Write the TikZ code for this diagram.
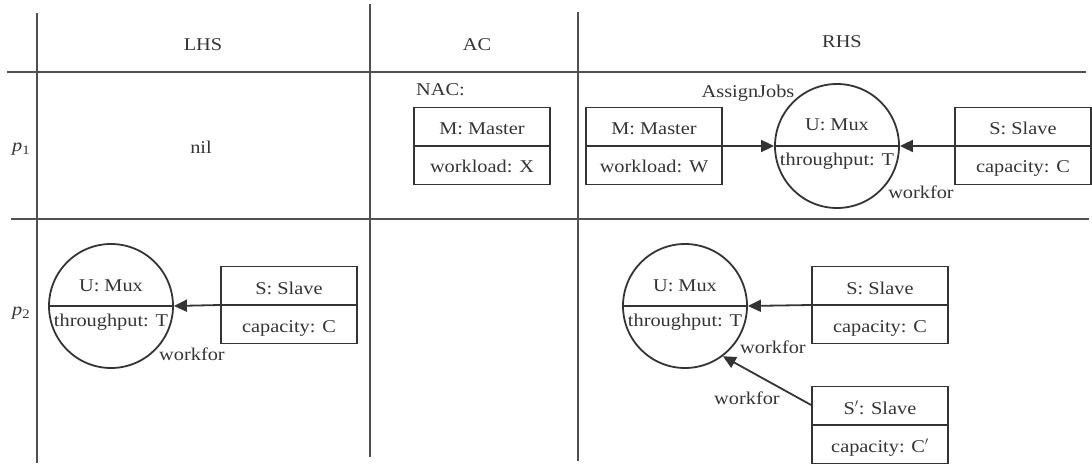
\documentclass[tikz,border=0pt]{standalone}
\usepackage{fontspec}
\setmainfont{Liberation Serif}[FakeStretch=1.13]
\usetikzlibrary{arrows.meta}
\definecolor{ink}{RGB}{52,52,52}
\definecolor{gridcol}{RGB}{80,80,80}
\tikzset{
  gridline/.style={draw=gridcol,line width=1.4pt},
  classbox/.style={draw=ink,line width=1.8pt,rectangle,minimum width=136pt,minimum height=77pt,inner sep=0pt},
  muxcircle/.style={draw=ink,line width=1.8pt,circle,minimum size=124pt,inner sep=0pt},
  divider/.style={draw=ink,line width=1.8pt},
  txt/.style={text=ink,inner sep=0pt,font=\fontsize{18}{20}\selectfont},
  arr/.style={draw=ink,line width=1.8pt,-{Triangle[length=13pt,width=12pt]}},
}
\begin{document}
\begin{tikzpicture}[x=1pt,y=-1pt]
\useasboundingbox (0,0) rectangle (1092,465);
% grid
\coordinate (h1a) at (7,72);   \coordinate (h1b) at (1086,72);
\coordinate (h2a) at (11,219); \coordinate (h2b) at (1089,219);
\coordinate (v1a) at (37,13);  \coordinate (v1b) at (37,463);
\coordinate (v2a) at (370,4);  \coordinate (v2b) at (370,457);
\coordinate (v3a) at (578,12); \coordinate (v3b) at (578,461);
\draw[gridline] (h1a) -- (h1b);
\draw[gridline] (h2a) -- (h2b);
\draw[gridline] (v1a) -- (v1b);
\draw[gridline] (v2a) -- (v2b);
\draw[gridline] (v3a) -- (v3b);
% headers
\node[txt] (lhs) at (203,45) {LHS};
\node[txt] (ac) at (477,45) {AC};
\node[txt] (rhs) at (842,42) {RHS};
\node[txt] (lp1) at (21,149) {\textit{p}\raisebox{-3pt}{\fontsize{13}{14}\selectfont 1}};
\node[txt] (lp2) at (21,313) {\textit{p}\raisebox{-3pt}{\fontsize{13}{14}\selectfont 2}};
% p1
\node[txt] (nil) at (201,147) {nil};
\node[txt,anchor=west] (nac) at (416,90) {NAC:};
% NAC master
\node[classbox] (nacm) at (482,146) {};
\draw[divider] (nacm.west) -- (nacm.east);
\node[txt,anchor=base] (nacmA) at ([yshift=11pt]nacm.center) {M: Master};
\node[txt,anchor=base] (nacmB) at ([yshift=-27pt]nacm.center) {workload: X};
% RHS master
\node[classbox] (mone) at (654,146) {};
\draw[divider] (mone.west) -- (mone.east);
\node[txt,anchor=base] (moneA) at ([yshift=11pt]mone.center) {M: Master};
\node[txt,anchor=base] (moneB) at ([yshift=-27pt]mone.center) {workload: W};
% RHS mux p1
\node[muxcircle] (uone) at (837,146) {};
\draw[divider] (uone.west) -- (uone.east);
\node[txt,anchor=base] (uoneA) at ([yshift=15pt]uone.center) {U: Mux};
\node[txt,anchor=base] (uoneB) at ([yshift=-20pt]uone.center) {throughput: T};
% RHS slave p1
\node[classbox] (sone) at (1023,146) {};
\draw[divider] (sone.west) -- (sone.east);
\node[txt,anchor=base] (soneA) at ([yshift=11pt]sone.center) {S: Slave};
\node[txt,anchor=base] (soneB) at ([yshift=-27pt]sone.center) {capacity: C};
\node[txt] (aj) at (748,93) {AssignJobs};
\node[txt] (wfone) at (921,192) {workfor};
\draw[arr] (mone.east) -- (uone.west);
\draw[arr] (sone.west) -- (uone.east);
% p2 LHS
\node[muxcircle] (utwo) at (111,306) {};
\draw[divider] (utwo.west) -- (utwo.east);
\node[txt,anchor=base] (utwoA) at ([yshift=15pt]utwo.center) {U: Mux};
\node[txt,anchor=base] (utwoB) at ([yshift=-20pt]utwo.center) {throughput: T};
\node[classbox] (stwo) at (289,305) {};
\draw[divider] (stwo.west) -- (stwo.east);
\node[txt,anchor=base] (stwoA) at ([yshift=11pt]stwo.center) {S: Slave};
\node[txt,anchor=base] (stwoB) at ([yshift=-27pt]stwo.center) {capacity: C};
\draw[arr] (stwo.west) -- (utwo.east);
\node[txt] (wftwo) at (192,354) {workfor};
% p2 RHS
\node[muxcircle] (uthree) at (685,306) {};
\draw[divider] (uthree.west) -- (uthree.east);
\node[txt,anchor=base] (uthreeA) at ([yshift=15pt]uthree.center) {U: Mux};
\node[txt,anchor=base] (uthreeB) at ([yshift=-20pt]uthree.center) {throughput: T};
\node[classbox] (sthree) at (880,305) {};
\draw[divider] (sthree.west) -- (sthree.east);
\node[txt,anchor=base] (sthreeA) at ([yshift=11pt]sthree.center) {S: Slave};
\node[txt,anchor=base] (sthreeB) at ([yshift=-27pt]sthree.center) {capacity: C};
\node[classbox] (sfour) at (880,425) {};
\draw[divider] (sfour.west) -- (sfour.east);
\node[txt,anchor=base] (sfourA) at ([yshift=11pt]sfour.center) {S$'$: Slave};
\node[txt,anchor=base] (sfourB) at ([yshift=-27pt]sfour.center) {capacity: C$'$};
\draw[arr] (sthree.west) -- (uthree.east);
\draw[arr] ([yshift=20pt]sfour.west) -- (uthree.-53);
\node[txt] (wfthree) at (773,347) {workfor};
\node[txt] (wffour) at (747,398) {workfor};
\end{tikzpicture}
\end{document}
